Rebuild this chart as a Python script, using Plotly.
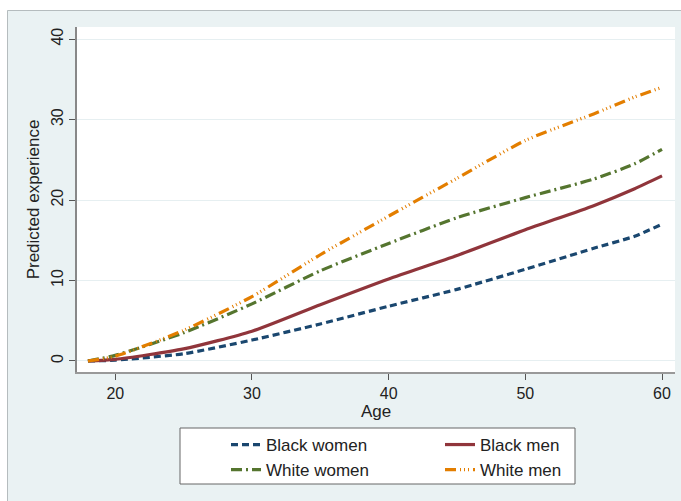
import plotly.graph_objects as go

ages = [18, 20, 25, 30, 35, 40, 45, 50, 55, 58, 60]
black_women = [0.0, 0.1, 0.9, 2.6, 4.6, 6.8, 8.9, 11.4, 14.0, 15.5, 17.0]
black_men = [0.0, 0.2, 1.5, 3.7, 7.0, 10.2, 13.1, 16.3, 19.3, 21.4, 23.0]
white_women = [0.0, 0.7, 3.5, 7.1, 11.2, 14.6, 17.8, 20.3, 22.6, 24.5, 26.3]
white_men = [0.0, 0.6, 3.8, 8.0, 13.2, 18.0, 22.7, 27.4, 30.7, 32.8, 34.0]

x_ticks = [20, 30, 40, 50, 60]
y_ticks = [0, 10, 20, 30, 40]

FONT = "Liberation Sans, Arial, sans-serif"
W, H = 681, 501
L, R, T, B = 77, 6, 27, 129
PW, PH = W - L - R, H - T - B


def px_x(p):
    return (p - L) / PW


def px_y(p):
    return (H - B - p) / PH


series = [
    ("Black women", black_women, "#1A476F", "7px,4px", "legend"),
    ("Black men", black_men, "#90353B", "solid", "legend2"),
    ("White women", white_women, "#55752F", "11px,4px,2px,4px", "legend"),
    ("White men", white_men, "#E37E00", "11px,4px,1px,3px,1px,3px,1px,4px", "legend2"),
]

fig = go.Figure()
for i, (name, vals, color, dash, lg) in enumerate(series):
    fig.add_trace(go.Scatter(
        x=ages, y=vals, mode="lines", name=name,
        line=dict(color=color, width=3.2, dash=dash, shape="spline", smoothing=0.6),
        legend=lg, legendgroup=name,
    ))

legend_common = dict(
    orientation="v", bgcolor="rgba(0,0,0,0)", borderwidth=0,
    font=dict(family=FONT, size=17, color="#222"),
    yanchor="top", xanchor="left", tracegroupgap=0,
)

fig.update_layout(
    width=W, height=H,
    margin=dict(l=L, r=R, t=T, b=B, autoexpand=False),
    paper_bgcolor="#EAF2F3",
    plot_bgcolor="white",
    font=dict(family=FONT, size=16, color="#222"),
    showlegend=True,
    legend=dict(x=px_x(226), y=px_y(427), **legend_common),
    legend2=dict(x=px_x(440), y=px_y(427), **legend_common),
    xaxis=dict(
        range=[17.2, 60.95], tickvals=x_ticks, ticktext=[str(v) for v in x_ticks],
        showgrid=False, zeroline=False,
        showline=True, linecolor="#999", linewidth=1.5,
        ticks="outside", ticklen=6, tickcolor="#555",
        tickfont=dict(size=16, family=FONT, color="#222"),
        title=dict(text="Age", font=dict(size=17, family=FONT, color="#222"), standoff=0),
    ),
    yaxis=dict(
        range=[-1.37, 41.5], tickvals=y_ticks, ticktext=[str(v) for v in y_ticks],
        showgrid=True, gridcolor="#E6EFF1", gridwidth=1, zeroline=False,
        showline=True, linecolor="#888", linewidth=1.5,
        ticks="outside", ticklen=6, tickcolor="#555", tickangle=-90,
        tickfont=dict(size=16, family=FONT, color="#222"),
        title=dict(text="Predicted experience", font=dict(size=17, family=FONT, color="#222"), standoff=5),
    ),
)

shapes = [
    # white top and left strips of the outer frame
    dict(type="rect", xref="paper", yref="paper", x0=px_x(-5), x1=px_x(690), y0=px_y(10), y1=px_y(-5),
         fillcolor="white", line=dict(width=0), layer="above"),
    dict(type="rect", xref="paper", yref="paper", x0=px_x(-5), x1=px_x(7), y0=px_y(510), y1=px_y(-5),
         fillcolor="white", line=dict(width=0), layer="above"),
    dict(type="line", xref="paper", yref="paper", x0=px_x(7.5), x1=px_x(690), y0=px_y(10.5), y1=px_y(10.5),
         line=dict(color="#B5BCBE", width=1), layer="above"),
    dict(type="line", xref="paper", yref="paper", x0=px_x(7.5), x1=px_x(7.5), y0=px_y(510), y1=px_y(10.5),
         line=dict(color="#B5BCBE", width=1), layer="above"),
    # legend box
    dict(type="rect", xref="paper", yref="paper", x0=px_x(180), x1=px_x(575), y0=px_y(484), y1=px_y(428),
         fillcolor="white", line=dict(color="#666", width=1), layer="below"),
]
fig.update_layout(shapes=shapes)

fig.write_html("out.html")
